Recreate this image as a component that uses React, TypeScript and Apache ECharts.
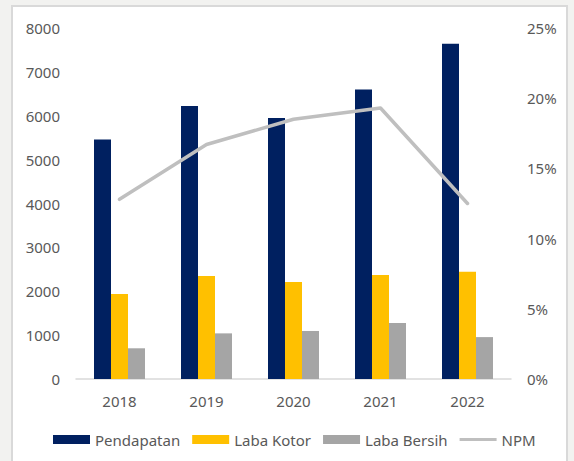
import React, { useEffect, useRef } from "react";
import * as echarts from "echarts";

const categories = ["2018", "2019", "2020", "2021", "2022"];
const pendapatan = [5460, 6220, 5950, 6600, 7640];
const labaKotor = [1940, 2350, 2210, 2370, 2445];
const labaBersih = [700, 1040, 1095, 1275, 955];
const npm = [0.128, 0.167, 0.185, 0.193, 0.125];

const FONT = "'Noto Sans', sans-serif";
const TEXT = "#595959";

export default function App() {
  const ref = useRef<HTMLDivElement>(null);
  useEffect(() => {
    if (!ref.current) return;
    const chart = echarts.init(ref.current, undefined, { renderer: "svg" });
    chart.setOption({
      animation: false,
      textStyle: { fontFamily: FONT },
      grid: { left: 76, right: 63, top: 28, bottom: 82 },
      legend: {
        left: 53,
        top: 432,
        padding: 0,
        itemWidth: 37,
        itemHeight: 9,
        itemGap: 12,
        textStyle: { color: TEXT, fontSize: 15, fontFamily: FONT },
        data: [
          { name: "Pendapatan", icon: "rect" },
          { name: "Laba Kotor", icon: "rect" },
          { name: "Laba Bersih", icon: "rect" },
          { name: "NPM", icon: "path://M0,0H37V3H0Z", itemStyle: { color: "#bfbfbf" } },
        ],
      },
      xAxis: {
        type: "category",
        data: categories,
        axisLine: { lineStyle: { color: "#d9d9d9", width: 1.5 } },
        axisTick: { show: false },
        axisLabel: { color: TEXT, fontSize: 15, margin: 14, fontFamily: FONT },
      },
      yAxis: [
        {
          type: "value",
          min: 0,
          max: 8000,
          interval: 1000,
          axisLine: { show: false },
          axisTick: { show: false },
          splitLine: { show: false },
          axisLabel: {
            color: TEXT,
            fontSize: 15,
            margin: 16,
            fontFamily: FONT,
            formatter: (v: number) => String(v),
          },
        },
        {
          type: "value",
          min: 0,
          max: 0.25,
          interval: 0.05,
          position: "right",
          axisLine: { show: false },
          axisTick: { show: false },
          splitLine: { show: false },
          axisLabel: {
            color: TEXT,
            fontSize: 15,
            margin: 16,
            fontFamily: FONT,
            formatter: (v: number) => Math.round(v * 100) + "%",
          },
        },
      ],
      series: [
        {
          name: "Pendapatan",
          type: "bar",
          data: pendapatan,
          barWidth: 17,
          barGap: "0%",
          itemStyle: { color: "#002060" },
        },
        {
          name: "Laba Kotor",
          type: "bar",
          data: labaKotor,
          barWidth: 17,
          barGap: "0%",
          itemStyle: { color: "#ffc000" },
        },
        {
          name: "Laba Bersih",
          type: "bar",
          data: labaBersih,
          barWidth: 17,
          barGap: "0%",
          itemStyle: { color: "#a5a5a5" },
        },
        {
          name: "NPM",
          type: "line",
          yAxisIndex: 1,
          data: npm,
          symbol: "none",
          itemStyle: { color: "#bfbfbf" },
          lineStyle: { color: "#bfbfbf", width: 3.5, cap: "round", join: "round" },
        },
      ],
    });
    return () => chart.dispose();
  }, []);

  return (
    <div
      style={{
        position: "fixed",
        left: 0,
        top: 0,
        width: 574,
        height: 461,
        background: "#f2f2f0",
        overflow: "hidden",
      }}
    >
      <div
        style={{
          position: "absolute",
          left: 11,
          top: 5,
          width: 553,
          height: 480,
          background: "#ffffff",
          border: "2px solid #d9d9d9",
        }}
      />
      <div ref={ref} style={{ position: "absolute", left: 0, top: 0, width: 574, height: 461 }} />
    </div>
  );
}
